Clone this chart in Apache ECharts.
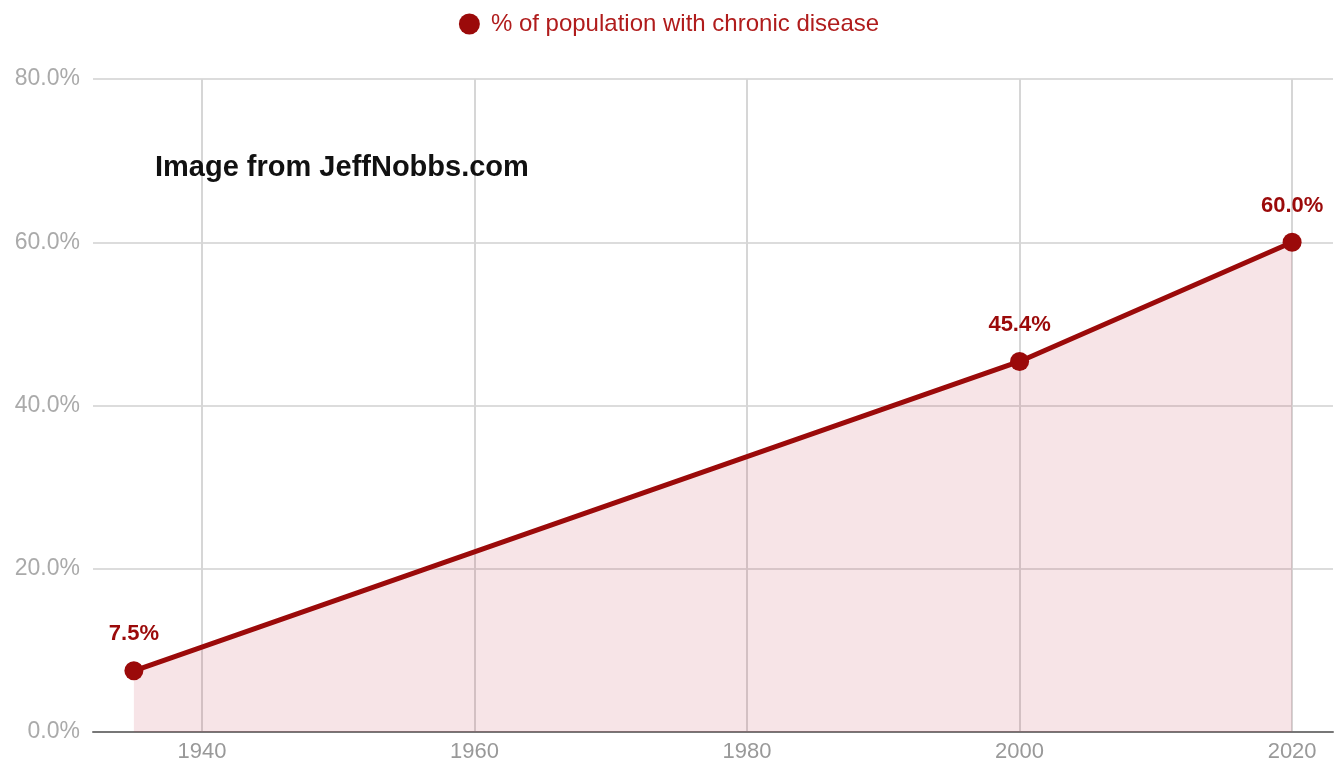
<!DOCTYPE html>
<html>
<head>
<meta charset="utf-8">
<style>
  html, body { margin: 0; padding: 0; background: #fff; }
  #chart { width: 1338px; height: 770px; }
</style>
<script src="https://cdn.jsdelivr.net/npm/echarts@6/dist/echarts.min.js"></script>
</head>
<body>
<div id="chart"></div>
<script>
// data
var seriesName = '% of population with chronic disease'
var years = [1935, 2000, 2020]
var percents = [7.5, 45.4, 60.0]
var yearTicks = [1940, 1960, 1980, 2000, 2020]

var chart = echarts.init(document.getElementById('chart'))

chart.setOption({
  animation: false,
  legend: {
    top: 7,
    left: 'center',
    icon: 'circle',
    itemWidth: 21,
    itemHeight: 21,
    itemGap: 10,
    textStyle: { color: '#b01c1c', fontSize: 24, padding: [0, 0, 0, 6], fontFamily: 'Liberation Sans, Arial' },
    data: [seriesName]
  },
  grid: { left: 93, right: 5, top: 79, bottom: 38 },
  graphic: [
    {
      type: 'text',
      left: 155,
      top: 153,
      z: 100,
      style: {
        text: 'Image from JeffNobbs.com',
        fill: '#111',
        font: 'bold 29px "Liberation Sans", Arial'
      }
    }
  ],
  xAxis: {
    type: 'value',
    min: 1932,
    max: 2023,
    axisLine: { show: true, lineStyle: { color: '#777', width: 2 } },
    axisTick: { show: false, customValues: yearTicks },
    axisLabel: {
      customValues: yearTicks,
      color: '#999',
      fontSize: 22,
      margin: 9,
      fontFamily: 'Liberation Sans, Arial',
      formatter: function (v) { return String(v) }
    },
    splitLine: { show: true, lineStyle: { color: '#d6d6d6', width: 2 } }
  },
  yAxis: {
    type: 'value',
    min: 0,
    max: 80,
    interval: 20,
    axisLine: { show: false },
    axisTick: { show: false },
    axisLabel: {
      color: '#aaa',
      fontSize: 23,
      margin: 13,
      fontFamily: 'Liberation Sans, Arial',
      formatter: function (v) { return v.toFixed(1) + '%' }
    },
    splitLine: { lineStyle: { color: '#dcdcdc', width: 2 } }
  },
  series: [
    {
      name: seriesName,
      type: 'line',
      data: years.map(function (y, i) { return [y, percents[i]] }),
      symbol: 'circle',
      symbolSize: 19,
      lineStyle: { color: '#9b0a0a', width: 5 },
      itemStyle: { color: '#9b0a0a' },
      areaStyle: { color: 'rgba(190, 40, 60, 0.18)' },
      label: {
        show: true,
        position: 'top',
        distance: 16,
        color: '#9b0a0a',
        fontWeight: 'bold',
        fontSize: 22,
        fontFamily: 'Liberation Sans, Arial',
        formatter: function (p) { return p.value[1].toFixed(1) + '%' }
      }
    }
  ]
})
</script>
</body>
</html>
